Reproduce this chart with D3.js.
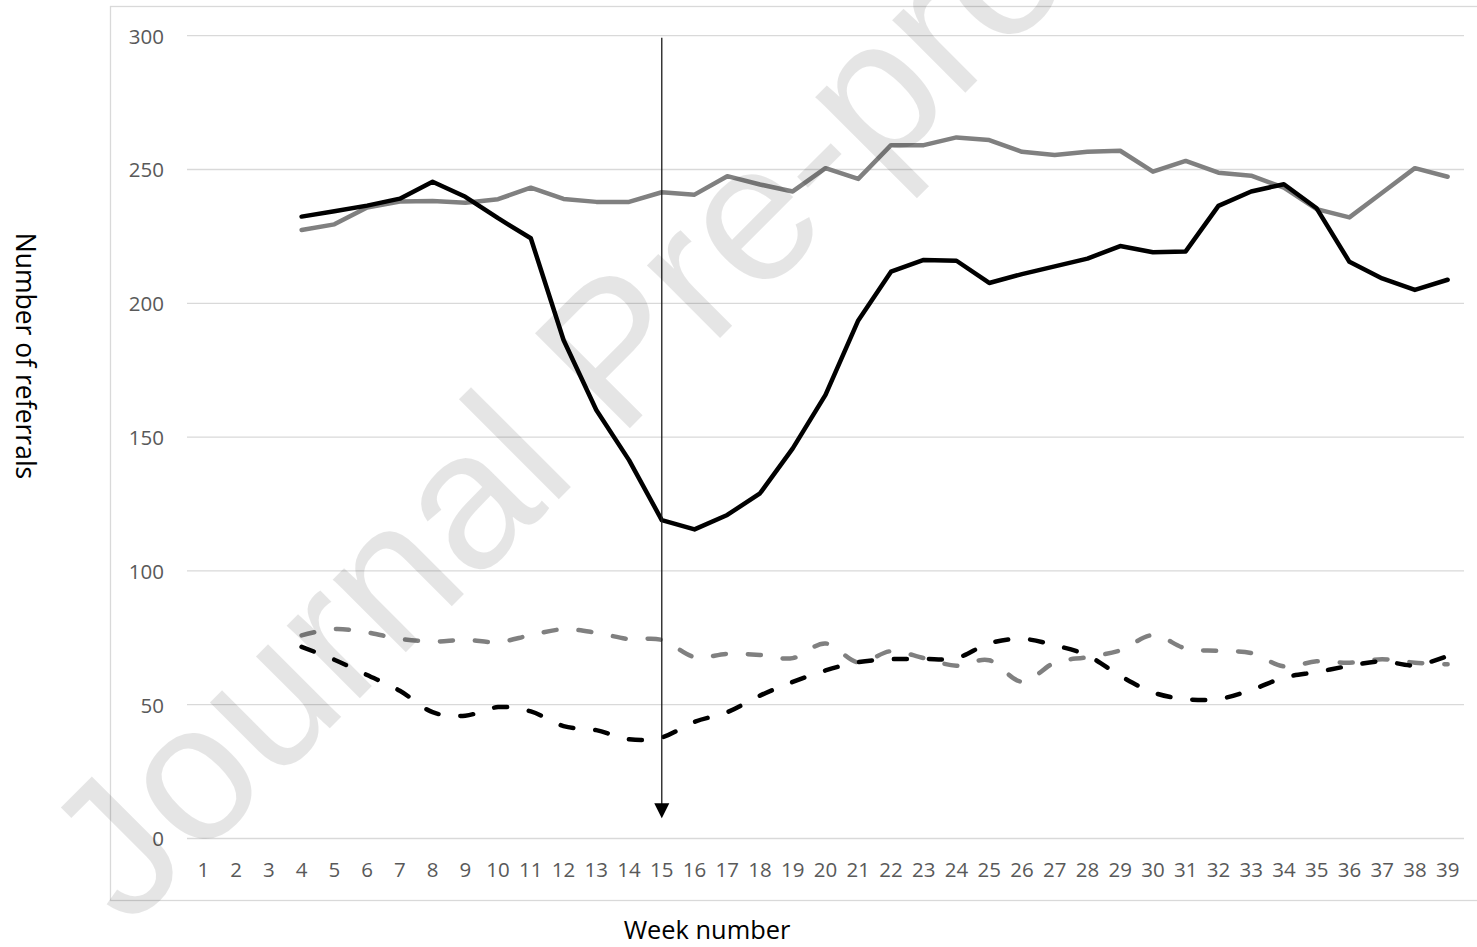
<!DOCTYPE html>
<html>
<head>
<meta charset="utf-8">
<script src="https://cdn.jsdelivr.net/npm/d3@7/dist/d3.min.js"></script>
<style>
  html, body { margin: 0; padding: 0; background: #fff; }
  svg { display: block; }
</style>
</head>
<body>
<svg id="chart" width="1477" height="947"></svg>
<script>
// ---------------- DATA ----------------
const weeks = d3.range(1, 40).map(String);           // "1".."39"
const yTicks = [0, 50, 100, 150, 200, 250, 300];

// values for weeks 1..39 (null = no data)
const graySolid = [null, null, null,
  227.4, 229.5, 235.8, 238.0, 238.2, 237.6, 238.9, 243.2, 239.0, 237.9,
  237.9, 241.5, 240.6, 247.5, 244.4, 241.8, 250.5, 246.5, 259.1, 259.1,
  262.0, 261.0, 256.6, 255.4, 256.6, 257.0, 249.2, 253.2, 248.8, 247.7,
  243.2, 235.2, 232.1, 241.3, 250.5, 247.3];

const blackSolid = [null, null, null,
  232.4, 234.4, 236.5, 239.1, 245.4, 239.8, 231.8, 224.3, 186.3, 160.1,
  141.4, 119.0, 115.5, 120.9, 129.0, 145.8, 165.8, 193.6, 211.8, 216.2,
  215.9, 207.6, 210.9, 213.8, 216.7, 221.4, 219.1, 219.4, 236.4, 241.8,
  244.5, 235.5, 215.5, 209.3, 205.0, 208.8];

const grayDashed = [null, null, null,
  75.9, 78.3, 77.0, 74.6, 73.6, 74.2, 73.4, 76.0, 78.2, 76.9,
  74.5, 74.2, 67.8, 69.0, 68.6, 67.4, 72.9, 65.8, 70.0, 67.4,
  64.6, 66.6, 58.6, 65.7, 67.8, 70.3, 76.0, 71.0, 70.1, 69.3,
  64.3, 66.2, 65.7, 67.0, 65.7, 65.1];

const blackDashed = [null, null, null,
  71.6, 66.8, 61.1, 55.2, 47.2, 45.9, 49.1, 47.5, 42.0, 40.5,
  37.1, 37.8, 43.6, 47.2, 53.4, 58.5, 62.8, 65.9, 67.0, 67.1,
  67.4, 72.9, 74.6, 72.2, 68.4, 60.8, 54.6, 52.1, 52.1, 55.5,
  60.1, 62.2, 64.5, 66.2, 64.7, 68.2];

// annotation: vertical arrow at week 15
const arrowWeek = "15";
const arrowFrom = 299.2;
const arrowTo = 7.6;

const xTitle = "Week number";
const yTitle = "Number of referrals";
const watermark = "Journal Pre-proof";

// ---------------- LAYOUT ----------------
const svg = d3.select("#chart");
const W = 1477, H = 947;
const plot = { left: 187, right: 1464, top: 35.7, bottom: 838.5 };

const x = d3.scaleBand().domain(weeks).range([plot.left, plot.right]).padding(0);
const y = d3.scaleLinear().domain([0, 300]).range([plot.bottom, plot.top]);
const cx = w => x(w) + x.bandwidth() / 2;

const tickFont = "'Open Sans', 'Noto Sans', sans-serif";

// chart-area border
svg.append("rect")
  .attr("x", 110.5).attr("y", 6.5)
  .attr("width", W + 10).attr("height", 894)
  .attr("fill", "none").attr("stroke", "#d9d9d9").attr("stroke-width", 1.3);

// gridlines
svg.append("g").selectAll("line").data(yTicks).join("line")
  .attr("x1", plot.left).attr("x2", plot.right)
  .attr("y1", d => y(d)).attr("y2", d => y(d))
  .attr("stroke", "#d9d9d9").attr("stroke-width", 1.3);

// y axis labels
const yAxis = d3.axisLeft(y).tickValues(yTicks).tickSize(0).tickPadding(0);
const gy = svg.append("g").attr("transform", `translate(${plot.left - 23},0)`).call(yAxis);
gy.select(".domain").remove();
gy.selectAll("text")
  .attr("font-family", tickFont).attr("font-size", 20.5).attr("fill", "#595959")
  .attr("dy", "0.36em");

// x axis labels
const xAxis = d3.axisBottom(x).tickSize(0).tickPadding(0);
const gx = svg.append("g").attr("transform", `translate(0,${plot.bottom + 23.5})`).call(xAxis);
gx.select(".domain").remove();
gx.selectAll("text")
  .attr("font-family", tickFont).attr("font-size", 20.5).attr("fill", "#595959")
  .attr("dy", "0.71em");

// axis titles
svg.append("text")
  .attr("x", 707).attr("y", 939)
  .attr("text-anchor", "middle")
  .attr("font-family", tickFont).attr("font-size", 25.4).attr("fill", "#000")
  .text(xTitle);

svg.append("text")
  .attr("transform", "translate(16,356) rotate(90)")
  .attr("text-anchor", "middle")
  .attr("font-family", tickFont).attr("font-size", 26.5).attr("fill", "#000")
  .text(yTitle);

// lines
const idx = d3.range(weeks.length);
const mkLine = (arr, curve) => d3.line()
  .defined(i => arr[i] != null)
  .x(i => cx(weeks[i]))
  .y(i => y(arr[i]))
  .curve(curve);

const series = [
  { data: graySolid, color: "#808080", dash: null, curve: d3.curveLinear },
  { data: blackSolid, color: "#000000", dash: null, curve: d3.curveLinear },
  { data: grayDashed, color: "#808080", dash: "13,22", curve: d3.curveCatmullRom.alpha(0) },
  { data: blackDashed, color: "#000000", dash: "13,22", curve: d3.curveCatmullRom.alpha(0) }
];

svg.append("g").selectAll("path").data(series).join("path")
  .attr("d", s => mkLine(s.data, s.curve)(idx))
  .attr("fill", "none")
  .attr("stroke", s => s.color)
  .attr("stroke-width", 4.5)
  .attr("stroke-linejoin", "round")
  .attr("stroke-linecap", "round")
  .attr("stroke-dasharray", s => s.dash);

// arrow
const ax = cx(arrowWeek);
const headH = 15, headW = 7.5;
svg.append("line")
  .attr("x1", ax).attr("x2", ax)
  .attr("y1", y(arrowFrom)).attr("y2", y(arrowTo) - headH + 1)
  .attr("stroke", "#1a1a1a").attr("stroke-width", 1.3);
svg.append("path")
  .attr("d", `M${ax - headW},${y(arrowTo) - headH} L${ax + headW},${y(arrowTo) - headH} L${ax},${y(arrowTo)} Z`)
  .attr("fill", "#000");

// watermark
svg.append("text")
  .attr("transform", "translate(128,930) rotate(-45)")
  .attr("font-family", "'Liberation Sans', Arial, sans-serif")
  .attr("font-size", 195)
  .attr("fill", "#000").attr("fill-opacity", 0.1)
  .text(watermark);
</script>
</body>
</html>
